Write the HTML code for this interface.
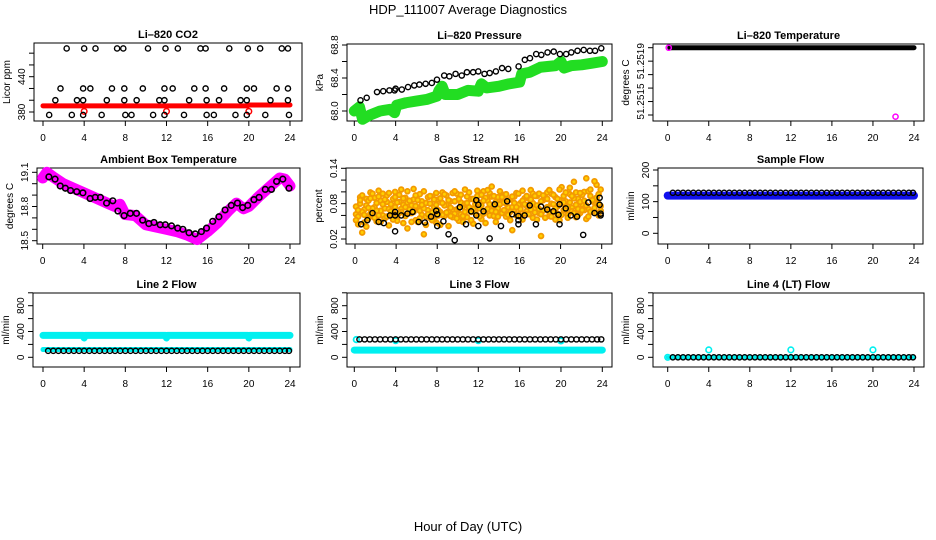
<!DOCTYPE html>
<html><head><meta charset="utf-8"><style>
html,body{margin:0;padding:0;background:#fff;}
svg{display:block;font-family:"Liberation Sans",sans-serif;}
</style></head><body>
<svg id="chart" width="936" height="540" viewBox="0 0 936 540">
<text x="468" y="14" text-anchor="middle" font-size="13">HDP_111007  Average Diagnostics</text>
<text x="468" y="531" text-anchor="middle" font-size="13">Hour of Day (UTC)</text>
</svg>
<script>
const NS="http://www.w3.org/2000/svg";
const svg=document.getElementById('chart');
// ---------- data ----------
const xTicks=[0,4,8,12,16,20,24];
const co2TopHours=[2.3,4.0,5.1,7.2,7.8,10.2,11.9,13.1,15.3,15.8,18.1,19.9,21.1,23.2,23.8];
const co2TopValues=[488,488,488,488,488,488,488,488,488,488,488,488,488,488,488];
const co2MidHours=[1.7,3.9,4.6,6.7,7.9,9.7,11.8,12.6,14.7,15.8,17.6,19.8,20.5,22.7,23.8];
const co2MidValues=[420,420,420,420,420,420,420,420,420,420,420,420,420,420,420];
const co2LowHours=[1.2,3.3,3.9,6.2,7.9,9.1,11.3,11.8,14.2,15.9,17.1,19.2,19.8,22.1,23.8];
const co2LowValues=[400,400,400,400,400,400,400,400,400,400,400,400,400,400,400];
const co2BotHours=[0.6,2.8,3.9,5.7,8.0,8.6,10.7,11.8,13.7,15.9,16.6,18.7,19.8,21.6,23.9];
const co2BotValues=[375,375,375,375,375,375,375,375,375,375,375,375,375,375,375];
const co2RedHours=[0,4,8,12,16,19.9,20,24];
const co2RedValues=[390.5,390.5,390.5,390.5,390.5,390.5,392,392];
const co2RedDotHours=[4,12,20];
const co2RedDotValues=[381,381,381];

const presHours=[0.6,1.2,2.2,2.8,3.4,3.9,4.0,4.6,5.2,5.8,6.3,6.9,7.5,8.0,8.7,9.2,9.8,10.4,10.9,11.5,12.0,12.6,13.1,13.7,14.3,14.9,15.9,16.5,17.0,17.6,18.1,18.7,19.3,19.9,20.5,21.0,21.6,22.2,22.8,23.3,23.9];
const presValues=[68.13,68.16,68.23,68.24,68.25,68.25,68.27,68.26,68.29,68.31,68.32,68.33,68.34,68.38,68.43,68.42,68.45,68.43,68.47,68.47,68.48,68.45,68.46,68.48,68.52,68.51,68.54,68.62,68.64,68.69,68.68,68.71,68.72,68.69,68.69,68.71,68.73,68.74,68.73,68.73,68.76];
const presGreenHours=[0,0.5,0.8,1.5,2.5,3.5,3.9,4.1,5,6,7,8,8.2,8.5,8.8,10,11,12,12.3,12.8,14,15,16,16.2,17,18,19.5,20,20.3,21,22,23,24];
const presGreenValues=[68.0,68.05,67.9,67.95,68.0,68.02,67.98,68.07,68.1,68.12,68.14,68.18,68.25,68.3,68.2,68.2,68.25,68.24,68.33,68.28,68.3,68.33,68.35,68.45,68.47,68.53,68.55,68.6,68.52,68.55,68.56,68.58,68.6];

const tempLineHours=[0.2,24];
const tempLineValues=[51.2519,51.2519];
const tempMagHours=[0.1,22.2];
const tempMagValues=[51.2519,51.25149];

const ambBandHours=[0,0.4,1,2,3,4,5,6,7,7.5,8,9,10,11,12,13,14,15,16,17,18,18.8,19.5,20,21,22,23,23.5,24];
const ambBandValues=[19.05,19.1,19.06,19.0,18.96,18.92,18.88,18.84,18.80,18.82,18.73,18.72,18.64,18.62,18.60,18.58,18.55,18.51,18.58,18.66,18.76,18.83,18.78,18.80,18.89,18.97,19.05,19.04,18.98];
const ambHours=[0.6,1.2,1.7,2.2,2.7,3.3,3.9,4.6,5.1,5.6,6.2,6.8,7.3,7.9,8.5,9.1,9.7,10.3,10.8,11.4,11.9,12.5,13.1,13.6,14.2,14.8,15.4,15.9,16.5,17.1,17.7,18.3,18.9,19.4,19.9,20.5,21.0,21.6,22.2,22.7,23.3,23.9];
const ambValues=[19.06,19.04,18.98,18.96,18.94,18.93,18.92,18.87,18.88,18.88,18.83,18.85,18.76,18.72,18.74,18.74,18.68,18.65,18.66,18.64,18.64,18.63,18.61,18.60,18.57,18.56,18.58,18.61,18.67,18.71,18.77,18.81,18.83,18.79,18.81,18.86,18.88,18.95,18.95,19.02,19.04,18.96];

const rhOrangeHours=[0.1,0.3,0.5,0.7,0.9,1.1,1.3,1.5,1.7,1.9,2.1,2.3,2.5,2.7,2.9,3.1,3.3,3.5,3.7,3.9,4.1,4.3,4.5,4.7,4.9,5.1,5.3,5.5,5.7,5.9,6.1,6.3,6.5,6.7,6.9,7.1,7.3,7.5,7.7,7.9,8.1,8.3,8.5,8.7,8.9,9.1,9.3,9.5,9.7,9.9,10.1,10.3,10.5,10.7,10.9,11.1,11.3,11.5,11.7,11.9,12.1,12.3,12.5,12.7,12.9,13.1,13.3,13.5,13.7,13.9,14.1,14.3,14.5,14.7,14.9,15.1,15.3,15.5,15.7,15.9,16.1,16.3,16.5,16.7,16.9,17.1,17.3,17.5,17.7,17.9,18.1,18.3,18.5,18.7,18.9,19.1,19.3,19.5,19.7,19.9,20.1,20.3,20.5,20.7,20.9,21.1,21.3,21.5,21.7,21.9,22.1,22.3,22.5,22.7,22.9,23.1,23.3,23.5,23.7,23.9];
const rhOrangeValues=[.062,.045,.080,.031,.070,.088,.055,.099,.067,.074,.050,.102,
.085,.060,.072,.094,.043,.079,.066,.100,.058,.083,.071,.047,
.090,.038,.064,.077,.105,.052,.073,.096,.061,.028,.081,.069,
.056,.092,.074,.048,.087,.066,.099,.059,.078,.042,.084,.070,
.063,.097,.051,.082,.075,.104,.057,.069,.088,.046,.079,.093,
.072,.054,.101,.068,.085,.060,.109,.076,.049,.091,.066,.083,
.095,.058,.074,.087,.035,.070,.098,.062,.081,.053,.089,.067,
.078,.103,.056,.072,.093,.064,.025,.086,.070,.099,.059,.080,
.066,.091,.075,.052,.108,.069,.084,.061,.096,.073,.117,.057,
.088,.064,.079,.100,.054,.071,.093,.067,.082,.112,.060,.076];
const rhOrange2Values=[.075,.058,.091,.066,.048,.077,.085,.063,.072,.090,.081,.060,
.068,.079,.055,.083,.071,.062,.088,.074,.051,.095,.066,.078,
.059,.082,.070,.064,.087,.076,.049,.068,.084,.072,.058,.091,
.080,.065,.053,.078,.069,.089,.061,.077,.094,.067,.073,.057,
.084,.070,.088,.062,.059,.080,.092,.074,.066,.071,.085,.060,
.081,.077,.063,.090,.071,.098,.068,.059,.083,.072,.079,.064,
.069,.080,.087,.066,.074,.092,.060,.078,.071,.085,.063,.076,
.089,.070,.081,.065,.077,.071,.084,.068,.090,.074,.066,.097,
.079,.072,.063,.086,.080,.093,.070,.075,.082,.067,.089,.078,
.071,.083,.095,.069,.077,.101,.066,.084,.073,.090,.080,.068];
const rhOrange3Values=[.052,.069,.086,.094,.061,.041,.073,.089,.097,.056,.068,.092,
.049,.097,.087,.058,.098,.067,.053,.091,.082,.064,.104,.089,
.074,.101,.085,.049,.066,.094,.086,.055,.078,.101,.044,.062,
.093,.052,.087,.098,.060,.044,.081,.096,.065,.086,.059,.098,
.101,.055,.072,.095,.049,.066,.081,.099,.052,.088,.064,.102,
.058,.095,.085,.047,.103,.079,.092,.093,.066,.058,.101,.091,
.082,.096,.061,.052,.092,.081,.074,.097,.058,.102,.079,.093,
.062,.087,.097,.093,.053,.097,.062,.094,.056,.088,.103,.058,
.095,.053,.088,.104,.061,.082,.099,.056,.107,.093,.064,.099,
.061,.098,.069,.085,.123,.058,.104,.086,.118,.064,.096,.104];
const rhBlackHours=[0.6,1.2,1.7,2.3,2.8,3.4,3.9,3.9,3.9,4.5,5.1,5.6,6.2,6.8,7.4,7.9,8.0,8.0,8.6,9.1,9.7,10.2,10.8,11.3,11.8,11.8,12.0,12.0,12.5,13.1,13.6,14.2,14.8,15.3,15.9,15.9,15.9,16.5,17.0,17.6,18.1,18.7,19.3,19.8,19.9,19.9,20.5,21.0,21.6,22.2,22.7,23.3,23.8,23.9,23.9,23.8];
const rhBlackValues=[0.045,0.052,0.064,0.049,0.047,0.060,0.066,0.060,0.033,0.060,0.063,0.066,0.049,0.048,0.058,0.068,0.062,0.042,0.050,0.028,0.018,0.074,0.045,0.067,0.086,0.060,0.042,0.078,0.067,0.021,0.079,0.042,0.084,0.062,0.059,0.052,0.045,0.060,0.077,0.045,0.075,0.070,0.067,0.061,0.079,0.045,0.072,0.060,0.058,0.027,0.082,0.064,0.078,0.063,0.060,0.090];

const flowHours=[0.5,1.0,1.5,2.0,2.5,3.0,3.5,4.0,4.5,5.0,5.5,6.0,6.5,7.0,7.5,8.0,8.5,9.0,9.5,10.0,10.5,11.0,11.5,12.0,12.5,13.0,13.5,14.0,14.5,15.0,15.5,16.0,16.5,17.0,17.5,18.0,18.5,19.0,19.5,20.0,20.5,21.0,21.5,22.0,22.5,23.0,23.5,23.9];
const sampleBlackValue=[128];
const sampleBandHours=[0,24];
const sampleBandValues=[119,119];
const line2UpperHours=[0,3.9,4.0,4.1,11.9,12.0,12.1,19.9,20.0,20.1,24];
const line2UpperValues=[340,340,300,340,340,300,340,340,300,340,340];
const line2LowerHours=[0,24];
const line2LowerValues=[120,120];
const line2BlackValue=[100];
const line3BandHours=[0,24];
const line3BandValues=[112,112];
const line3CyanHours=[0.2,4,12,20];
const line3CyanValues=[275,260,260,255];
const line3BlackValue=[278];
const line4BandHours=[0,24];
const line4BandValues=[0,0];
const line4CyanHours=[0,4,12,20];
const line4CyanValues=[0,115,115,115];
const line4BlackValue=[0];

// ---------- helpers ----------
function el(tag,parent){const e=document.createElementNS(NS,tag);parent.appendChild(e);return e;}
function lin(d0,p0,d1,p1){return v=>p0+(v-d0)*(p1-p0)/(d1-d0);}

function panel(name,title,ytitle,box,x0,x24,yd0,yp0,yd1,yp1,yTicks,yLabels){
  const g=el('g',svg);
  
  
  const p={g:g,l:box[0],t:box[1],r:box[2],b:box[3],x:lin(0,x0,24,x24),y:lin(yd0,yp0,yd1,yp1)};
  const rect=el('rect',g);
  rect.setAttribute('x',p.l);rect.setAttribute('y',p.t);rect.setAttribute('width',p.r-p.l);rect.setAttribute('height',p.b-p.t);
  rect.setAttribute('fill','none');rect.setAttribute('stroke','#000');rect.setAttribute('stroke-width','1');
  
  
  const tt=el('text',g);
  tt.setAttribute('x',(p.l+p.r)/2);tt.setAttribute('y',p.t-5);tt.setAttribute('text-anchor','middle');
  tt.setAttribute('font-size','11');tt.setAttribute('font-weight','bold');tt.textContent=title;
  
  
  xTicks.forEach(h=>{
    const ln=el('line',g);const X=p.x(h);
    ln.setAttribute('x1',X);ln.setAttribute('x2',X);ln.setAttribute('y1',p.b);ln.setAttribute('y2',p.b+5);ln.setAttribute('stroke','#000');
    
    
    const tx=el('text',g);tx.setAttribute('x',X);tx.setAttribute('y',p.b+20);tx.setAttribute('text-anchor','middle');tx.setAttribute('font-size','10');tx.textContent=h;
    
    
  });
  yTicks.forEach((v,i)=>{
    const Y=p.y(v);
    const ln=el('line',g);
    ln.setAttribute('x1',p.l-5);ln.setAttribute('x2',p.l);ln.setAttribute('y1',Y);ln.setAttribute('y2',Y);ln.setAttribute('stroke','#000');
    
    
    if(yLabels[i]!==''){
      const tx=el('text',g);tx.setAttribute('transform','translate('+(p.l-9)+','+Y+') rotate(-90)');
      tx.setAttribute('text-anchor','middle');tx.setAttribute('font-size','10');tx.textContent=yLabels[i];
      
      
    }
  });
  const yt=el('text',g);
  yt.setAttribute('transform','translate('+(p.l-24)+','+((p.t+p.b)/2)+') rotate(-90)');
  yt.setAttribute('text-anchor','middle');yt.setAttribute('font-size','10');yt.textContent=ytitle;
  
  
  return p;
}
function pts(p,hs,vs,color,r,sw,name,fill){
  hs.forEach((h,i)=>{
    const c=el('circle',p.g);
    const v=vs.length===1?vs[0]:vs[i];
    c.setAttribute('cx',p.x(h));c.setAttribute('cy',p.y(v));c.setAttribute('r',r);
    c.setAttribute('fill',fill||'none');c.setAttribute('stroke',color);c.setAttribute('stroke-width',sw);
    
    
  });
}
function band(p,hs,vs,color,w,name){
  const pl=el('polyline',p.g);
  pl.setAttribute('points',hs.map((h,i)=>p.x(h)+','+p.y(vs[i])).join(' '));
  pl.setAttribute('fill','none');pl.setAttribute('stroke',color);pl.setAttribute('stroke-width',w);
  pl.setAttribute('stroke-linejoin','round');pl.setAttribute('stroke-linecap','round');
  
  
}

// ---------- panels ----------
const p1=panel('co2','Li\u2013820 CO2','Licor ppm',[34,43,302,121],43,290,380,112,440,76.7,[380,400,420,440,460,480],['380','','','440','','']);
band(p1,co2RedHours,co2RedValues,'#f00',5,'co2-red-series');
pts(p1,co2RedDotHours,co2RedDotValues,'#f00',2.8,1.5,'co2-red-point');
pts(p1,co2TopHours,co2TopValues,'#000',2.6,1.4,'co2-point');
pts(p1,co2MidHours,co2MidValues,'#000',2.6,1.4,'co2-point');
pts(p1,co2LowHours,co2LowValues,'#000',2.6,1.4,'co2-point');
pts(p1,co2BotHours,co2BotValues,'#000',2.6,1.4,'co2-point');

const p2=panel('pressure','Li\u2013820 Pressure','kPa',[347,44,612,121],354.3,602.3,68.0,111,68.8,45,[68.0,68.2,68.4,68.6,68.8],['68.0','','68.4','','68.8']);
band(p2,presGreenHours,presGreenValues,'#22dd22',11,'pressure-green-series');
pts(p2,presHours,presValues,'#000',2.6,1.4,'pressure-point');

const p3=panel('temperature','Li\u2013820 Temperature','degrees C',[653,44,924,121],667.7,914,51.2519,47.7,51.2515,115,[51.2519,51.25182,51.25174,51.25166,51.25158,51.2515],['','51.2519','','','51.2515','']);
band(p3,tempLineHours,tempLineValues,'#000',5,'temperature-black-series');
pts(p3,tempMagHours,tempMagValues,'#f0f',2.6,1.5,'temperature-magenta-point');

const p4=panel('ambient','Ambient Box Temperature','degrees C',[37,168,300,244],42.7,290,19.1,172.3,18.5,240.7,[18.5,18.6,18.7,18.8,18.9,19.0,19.1],['18.5','','','18.8','','','19.1']);
band(p4,ambBandHours,ambBandValues,'#f0f',11,'ambient-magenta-series');
pts(p4,ambHours,ambValues,'#000',2.8,1.6,'ambient-point');

const p5=panel('rh','Gas Stream RH','percent',[346,168,612,244],355,601.7,0.14,168.3,0.02,239,[0.02,0.04,0.06,0.08,0.10,0.12,0.14],['0.02','','','0.08','','','0.14']);
pts(p5,rhOrangeHours,rhOrangeValues,'#f39a00',2.4,1.8,'rh-orange-point','#ffd000');
pts(p5,rhOrangeHours,rhOrange2Values,'#f39a00',2.4,1.8,'rh-orange-point','#ffd000');
pts(p5,rhOrangeHours,rhOrange3Values,'#f39a00',2.4,1.8,'rh-orange-point','#ffd000');
pts(p5,rhBlackHours,rhBlackValues,'#000',2.6,1.4,'rh-black-point');

const p6=panel('sample-flow','Sample Flow','ml/min',[658,168,923,244],667.7,914,200,170,0,233.3,[0,50,100,150,200],['0','','100','','200']);
band(p6,sampleBandHours,sampleBandValues,'#1010ee',8,'sample-blue-series');
pts(p6,flowHours,sampleBlackValue,'#000',2.6,1.4,'sample-point');

const p7=panel('line2','Line 2 Flow','ml/min',[33,293,300,367],43,290,0,357.3,800,305.7,[0,200,400,600,800,1000],['0','','400','','800','']);
band(p7,line2UpperHours,line2UpperValues,'#00f0f0',7,'line2-cyan-upper-series');
band(p7,line2LowerHours,line2LowerValues,'#00f0f0',5,'line2-cyan-lower-series');
pts(p7,flowHours,line2BlackValue,'#000',2.6,1.4,'line2-point');

const p8=panel('line3','Line 3 Flow','ml/min',[347,293,612,367],354.3,602.3,0,357.3,800,305.7,[0,200,400,600,800,1000],['0','','400','','800','']);
band(p8,line3BandHours,line3BandValues,'#00f0f0',7,'line3-cyan-series');
pts(p8,line3CyanHours,line3CyanValues,'#00f0f0',2.8,1.8,'line3-cyan-point');
pts(p8,flowHours,line3BlackValue,'#000',2.6,1.4,'line3-point');

const p9=panel('line4','Line 4 (LT) Flow','ml/min',[653,293,924,367],667.7,914,0,357.3,800,305.7,[0,200,400,600,800,1000],['0','','400','','800','']);
band(p9,line4BandHours,line4BandValues,'#00f0f0',4,'line4-cyan-series');
pts(p9,line4CyanHours,line4CyanValues,'#00f0f0',2.8,1.6,'line4-cyan-point');
pts(p9,flowHours,line4BlackValue,'#000',2.6,1.4,'line4-point');
</script>
</body></html>
